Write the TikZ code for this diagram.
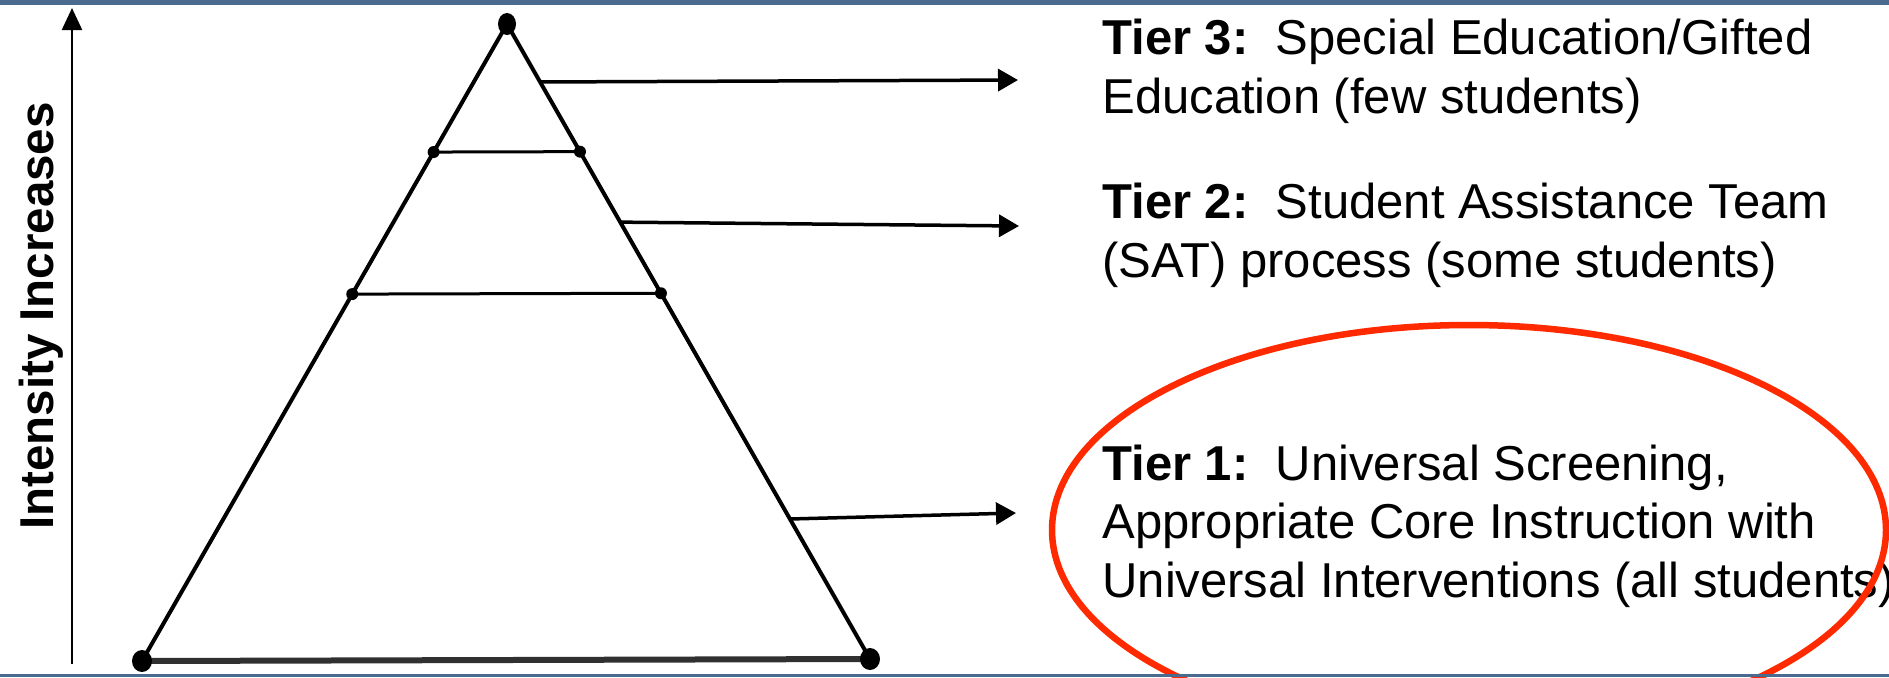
\documentclass[tikz,border=0pt]{standalone}
\usepackage{fontspec}
\setmainfont{Liberation Sans}
\usetikzlibrary{arrows.meta,calc}
\definecolor{bandblue}{HTML}{4A6A90}
\definecolor{ringred}{HTML}{FF2A00}
\definecolor{baseline}{HTML}{303030}
\begin{document}
\begin{tikzpicture}[x=0.5pt,y=-0.5pt,
  side/.style={line width=2pt,line join=round},
  tierline/.style={line width=1.5pt},
  baseedge/.style={line width=3pt,draw=baseline},
  pointer/.style={line width=1.75pt,-{Triangle[length=10pt,width=11pt]}},
  axisarrow/.style={line width=1.2pt,-{Triangle[length=11pt,width=10pt]}},
  bigdot/.style={fill=black},
  tiertext/.style={anchor=base west,align=left,inner sep=0pt,
    font=\fontsize{24.5}{29.25}\selectfont},
  axislabel/.style={anchor=base,inner sep=0pt,rotate=90,
    font=\fontsize{23.75}{29.25}\selectfont\bfseries}
]
\useasboundingbox (0,0) rectangle (1889,677);
\clip (0,0) rectangle (1889,677);
\fill[white] (0,0) rectangle (1889,677);

% pyramid corners
\coordinate (apex) at (507,24);
\coordinate (bl) at (142,661);
\coordinate (br) at (870,659);

% tier boundaries on the two sides
\coordinate (l1) at ($(apex)!0.201!(bl)$);
\coordinate (r1) at ($(apex)!0.201!(br)$);
\coordinate (l2) at ($(apex)!0.424!(bl)$);
\coordinate (r2) at ($(apex)!0.424!(br)$);

% pointer starts on the right side, and their free ends
\coordinate (s3) at ($(apex)!0.0913!(br)$);
\coordinate (s2) at ($(apex)!0.312!(br)$);
\coordinate (s1) at ($(apex)!0.7795!(br)$);
\coordinate (e3) at (1018,80);
\coordinate (e2) at (1019,226);
\coordinate (e1) at (1016,513);

% axis
\coordinate (axbot) at (72,664);
\coordinate (axtop) at (72,8);

% pyramid
\draw[side] (bl) -- (apex) -- (br);
\draw[baseedge] (bl) -- (br);
\draw[tierline] (l1) -- (r1);
\draw[tierline] (l2) -- (r2);

% dots at the corners and tier boundaries
\fill[bigdot] (apex) circle[x radius=9pt/2, y radius=11pt/2];
\fill[bigdot] (bl) circle[x radius=10pt/2, y radius=11pt/2];
\fill[bigdot] (br) circle[x radius=10pt/2, y radius=11pt/2];
\foreach \p in {l1,r1,l2,r2}
  \fill[bigdot] (\p) circle[radius=3pt];

% pointers to the tier descriptions
\draw[pointer] (s3) -- (e3);
\draw[pointer] (s2) -- (e2);
\draw[pointer] (s1) -- (e1);

% intensity axis
\draw[axisarrow] (axbot) -- (axtop);
\node[axislabel] (intensity) at (53,316) {Intensity Increases};

% tier descriptions (placed by the baseline of their last line)
\node[tiertext] (tier3) at (1102,113)
  {\textbf{Tier 3:}\ \ Special Education/Gifted\\Education (few students)};
\node[tiertext] (tier2) at (1102,277)
  {\textbf{Tier 2:}\ \ Student Assistance Team\\(SAT) process (some students)};
\node[tiertext] (tier1) at (1102,597)
  {\textbf{Tier 1:}\ \ Universal Screening,\\Appropriate Core Instruction with\\Universal Interventions (all students)};

% highlight ring round tier 1
\draw[ringred,line width=3.25pt] (1469,530) ellipse[x radius=208.5pt, y radius=102.5pt];

% frame bands
\fill[bandblue] (0,0) rectangle (1889,5);
\fill[bandblue] (0,674) rectangle (1889,677);
\end{tikzpicture}
\end{document}
